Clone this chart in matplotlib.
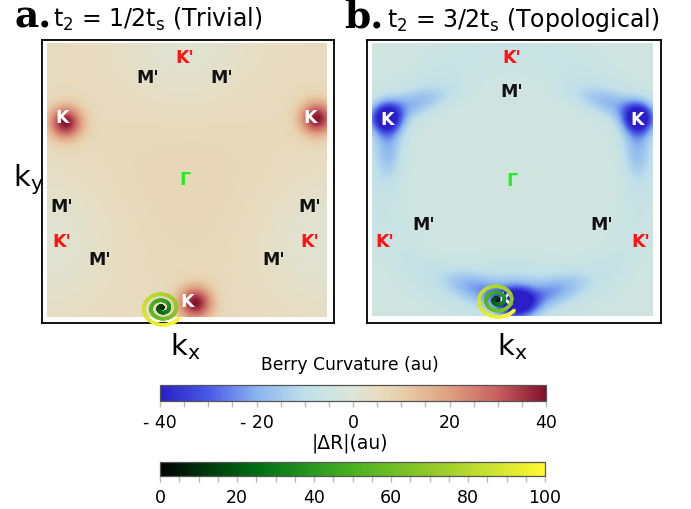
import numpy as np
import matplotlib
matplotlib.use("Agg")
import matplotlib.pyplot as plt
from matplotlib.colors import LinearSegmentedColormap, Normalize
from matplotlib.collections import LineCollection
from matplotlib.cm import ScalarMappable
from matplotlib.ticker import MultipleLocator

plt.rcParams['mathtext.default'] = 'regular'
plt.rcParams['font.family'] = ['DejaVu Sans']

# ---------------- data ----------------
# Berry curvature colour scale
bc_anchor_vals = [-40, -30, -20, -10, -5, 0, 5, 10, 20, 30, 40]
bc_anchor_cols = ['#2a1fc8', '#4a5ae6', '#8ab4f0', '#c0e0ea', '#cde4e2', '#dce5d8',
                  '#e8dcc0', '#e8cfac', '#dfa080', '#c86060', '#82122a']
bc_ticks = [-40, -20, 0, 20, 40]
bc_ticklabels = ['- 40', '- 20', '0', '20', '40']

# |dR| colour scale
dr_anchor_vals = [0, 10, 25, 40, 50, 70, 85, 100]
dr_anchor_cols = ['#000000', '#00300a', '#006e14', '#2a9a20', '#4ab020',
                  '#90c828', '#c8e030', '#fff830']
dr_ticks = [0, 20, 40, 60, 80, 100]

# Panel a (trivial): background level and curvature peaks
# (x, y, amplitude, long width, short width, angle in degrees)
a_base = 5.5
a_peak_x = [-0.87, 0.93, 0.06, -0.01, -1.0, 1.0, 0.0]
a_peak_y = [0.42, 0.45, -0.90, 1.0, -0.45, -0.45, 0.0]
a_peak_amp = [34.0, 34.0, 34.0, -4.5, -4.5, -4.5, 1.5]
a_peak_wl = [0.085, 0.085, 0.085, 0.35, 0.35, 0.35, 0.5]
a_peak_ws = [0.085, 0.085, 0.085, 0.35, 0.35, 0.35, 0.5]
a_peak_ang = [0, 0, 0, 0, 0, 0, 0]

# Panel b (topological)
b_base = -4.0
b_peak_x = [-0.90, -0.70, -0.89, 0.90, 0.70, 0.89, 0.03, -0.20, 0.24, 0.0]
b_peak_y = [0.45, 0.56, 0.24, 0.45, 0.56, 0.24, -0.90, -0.82, -0.84, -0.75]
b_peak_amp = [-36.0, -12.0, -12.0, -36.0, -12.0, -12.0, -36.0, -14.0, -14.0, -6.0]
b_peak_wl = [0.08, 0.20, 0.17, 0.08, 0.20, 0.17, 0.09, 0.20, 0.20, 0.30]
b_peak_ws = [0.08, 0.07, 0.07, 0.08, 0.07, 0.07, 0.08, 0.07, 0.07, 0.12]
b_peak_ang = [0, 18, 90, 0, -18, 90, 0, -20, 20, 0]
b_ring_radius = 0.95
b_ring_amp = -2.5
b_ring_w = 0.12

# high-symmetry labels  (text, x, y)
a_labels = [("K'", -0.014, 0.905), ("M'", -0.279, 0.758), ("M'", 0.25, 0.758),
            ("K", -0.893, 0.465), ("K", 0.879, 0.465), ("Γ", -0.014, 0.011),
            ("M'", -0.893, -0.187), ("M'", 0.879, -0.187),
            ("K'", -0.893, -0.443), ("K'", 0.879, -0.443),
            ("M'", -0.621, -0.575), ("M'", 0.621, -0.575), ("K", 0.0, -0.883)]
b_labels = [("K'", -0.004, 0.904), ("M'", -0.004, 0.654),
            ("K", -0.893, 0.449), ("K", 0.886, 0.449), ("Γ", -0.004, 0.0),
            ("M'", -0.630, -0.324), ("M'", 0.637, -0.324),
            ("K'", -0.907, -0.449), ("K'", 0.915, -0.449), ("K", -0.053, -0.875)]
label_colors = {"K'": '#ff1212', "M'": '#111111', "K": '#ffffff', "Γ": '#22ee22'}

# spirals: centre, radii, number of turns
a_spiral = dict(cx=-0.179, cy=-0.934, rx=0.15, ry=0.13, turns=2.9)
b_spiral = dict(cx=-0.110, cy=-0.882, rx=0.15, ry=0.13, turns=2.9)
spiral_dr_max = 100

# ---------------- helpers ----------------
def make_cmap(vals, cols, name):
    lo, hi = vals[0], vals[-1]
    pos = [(v - lo) / (hi - lo) for v in vals]
    return LinearSegmentedColormap.from_list(name, list(zip(pos, cols)))

bc_cmap = make_cmap(bc_anchor_vals, bc_anchor_cols, 'berry')
dr_cmap = make_cmap(dr_anchor_vals, dr_anchor_cols, 'dr')
bc_norm = Normalize(-40, 40)
dr_norm = Normalize(0, 100)

N = 320
gx = np.linspace(-1, 1, N)
X, Y = np.meshgrid(gx, gx)

def field(base, px, py, amp, wl, ws, angs, ring=None):
    F = np.full_like(X, base)
    for x0, y0, a, sl, ss, th in zip(px, py, amp, wl, ws, angs):
        c, s = np.cos(np.radians(th)), np.sin(np.radians(th))
        u = (X - x0) * c + (Y - y0) * s
        v = -(X - x0) * s + (Y - y0) * c
        F += a * np.exp(-(u ** 2 / (2 * sl ** 2) + v ** 2 / (2 * ss ** 2)))
    if ring is not None:
        r0, ra, rw = ring
        R = np.sqrt(X ** 2 + Y ** 2)
        F += ra * np.exp(-((R - r0) ** 2) / (2 * rw ** 2))
    return F

def draw_spiral(ax, sp):
    t = np.linspace(0, 1, 500)
    ang = 2 * np.pi * sp['turns'] * t
    xs = sp['cx'] + sp['rx'] * t * np.cos(ang)
    ys = sp['cy'] + sp['ry'] * t * np.sin(ang)
    pts = np.array([xs, ys]).T.reshape(-1, 1, 2)
    segs = np.concatenate([pts[:-1], pts[1:]], axis=1)
    lc = LineCollection(segs, cmap=dr_cmap, norm=dr_norm, linewidths=2.5,
                        capstyle='round', clip_on=False, zorder=5)
    lc.set_array(t[:-1] * spiral_dr_max)
    ax.add_collection(lc)

def panel(rect, F, labels, sp, xlim, ylim):
    ax = fig.add_axes(rect)
    ax.imshow(F, extent=[-1, 1, -1, 1], origin='lower', cmap=bc_cmap, norm=bc_norm,
              interpolation='bilinear', aspect='auto', zorder=1)
    for txt, x, y in labels:
        ax.text(x, y, txt, color=label_colors[txt], fontsize=12.5, fontweight='bold',
                ha='center', va='center', zorder=4)
    draw_spiral(ax, sp)
    ax.set_xlim(*xlim)
    ax.set_ylim(*ylim)
    ax.set_xticks([])
    ax.set_yticks([])
    for s in ax.spines.values():
        s.set_linewidth(1.3)
        s.set_color('black')
    return ax

# ---------------- figure ----------------
W, H = 691, 510
fig = plt.figure(figsize=(W / 100, H / 100), dpi=100)

def fx(px):
    return px / W

def fy(py):
    return 1 - py / H

Fa = field(a_base, a_peak_x, a_peak_y, a_peak_amp, a_peak_wl, a_peak_ws, a_peak_ang)
Fb = field(b_base, b_peak_x, b_peak_y, b_peak_amp, b_peak_wl, b_peak_ws, b_peak_ang,
           ring=(b_ring_radius, b_ring_amp, b_ring_w))

panel([fx(42), fy(324), 292 / W, 283 / H], Fa, a_labels, a_spiral,
      (-1.036, 1.05), (-1.044, 1.029))
panel([fx(367), fy(324), 294 / W, 283 / H], Fb, b_labels, b_spiral,
      (-1.036, 1.057), (-1.051, 1.029))

# titles
fig.text(fx(14), fy(28), 'a.', fontsize=27, fontweight='bold',
         family='DejaVu Serif', va='baseline')
fig.text(fx(53), fy(27), r't$_2$ = 1/2t$_\mathrm{s}$ (Trivial)', fontsize=17, va='baseline')
fig.text(fx(344), fy(28), 'b.', fontsize=27, fontweight='bold',
         family='DejaVu Serif', va='baseline')
fig.text(fx(387), fy(27), r't$_2$ = 3/2t$_\mathrm{s}$ (Topological)', fontsize=17,
         va='baseline')

# axis labels
fig.text(fx(13), fy(180), r'k$_\mathrm{y}$', fontsize=21, va='center', ha='left')
fig.text(fx(185), fy(347), r'k$_\mathrm{x}$', fontsize=21, va='center', ha='center')
fig.text(fx(512), fy(347), r'k$_\mathrm{x}$', fontsize=21, va='center', ha='center')

# colour bars
def cbar(rect, cmap, norm, ticks, ticklabels, label, label_y, label_size):
    cax = fig.add_axes(rect)
    cb = fig.colorbar(ScalarMappable(norm=norm, cmap=cmap), cax=cax,
                      orientation='horizontal')
    cb.set_ticks(ticks)
    if ticklabels is not None:
        cb.set_ticklabels(ticklabels)
    cax.xaxis.set_minor_locator(MultipleLocator(5))
    cax.tick_params(which='both', direction='out', color='#bbbbbb', width=1,
                    labelsize=12.5, pad=5)
    cax.tick_params(which='major', length=4)
    cax.tick_params(which='minor', length=4)
    cb.outline.set_edgecolor('#555555')
    cb.outline.set_linewidth(0.9)
    fig.text(fx(350), fy(label_y), label, fontsize=label_size, ha='center', va='center')
    return cb

cbar([fx(160), fy(402), 386 / W, 16 / H], bc_cmap, bc_norm, bc_ticks, bc_ticklabels,
     'Berry Curvature (au)', 365, 12.3)
cbar([fx(160), fy(477), 385 / W, 14 / H], dr_cmap, dr_norm, dr_ticks, None,
     '|ΔR|(au)', 443, 13.5)

fig.savefig('out.png', dpi=100)
